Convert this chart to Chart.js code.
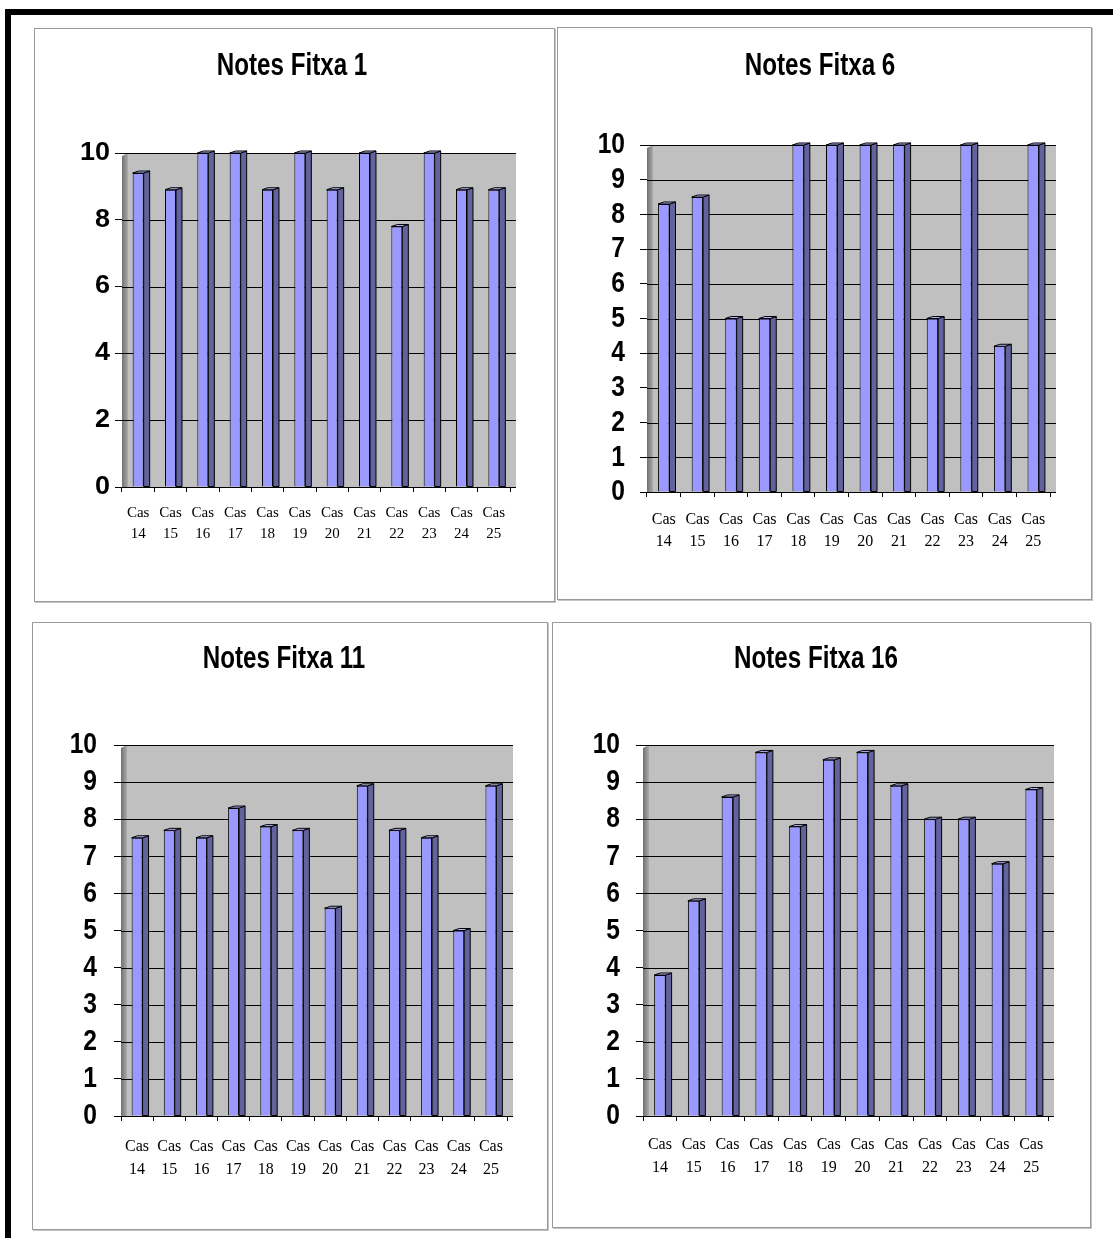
<!DOCTYPE html>
<html>
<head>
<meta charset="utf-8">
<script src="https://cdn.jsdelivr.net/npm/chart.js@4.4.1/dist/chart.umd.min.js"></script>
<style>
  html, body { margin: 0; padding: 0; background: #fff; width: 1113px; height: 1238px; overflow: hidden; position: relative; }
  #frame { position: absolute; left: 5px; top: 9px; width: 1200px; height: 1300px; border-top: 6px solid #000; border-left: 6px solid #000; }
  .panel { position: absolute; box-sizing: border-box; border: 1px solid #9a9a9a; box-shadow: 1px 1px 0 #c4c4c4; background: #fff; }
  canvas.chart { position: absolute; }
</style>
</head>
<body>
<div id="frame"></div>
<script>
// Case numbers on the horizontal axis
const casos = [14, 15, 16, 17, 18, 19, 20, 21, 22, 23, 24, 25];

// Marks per worksheet (fitxa), one value per case
const notesFitxa1  = [9.4, 8.9, 10, 10, 8.9, 10, 8.9, 10, 7.8, 10, 8.9, 8.9];
const notesFitxa6  = [8.3, 8.5, 5, 5, 10, 10, 10, 10, 5, 10, 4.2, 10];
const notesFitxa11 = [7.5, 7.7, 7.5, 8.3, 7.8, 7.7, 5.6, 8.9, 7.7, 7.5, 5.0, 8.9];
const notesFitxa16 = [3.8, 5.8, 8.6, 9.8, 7.8, 9.6, 9.8, 8.9, 8.0, 8.0, 6.8, 8.8];

const titols = ['Notes Fitxa 1', 'Notes Fitxa 6', 'Notes Fitxa 11', 'Notes Fitxa 16'];
const series = [notesFitxa1, notesFitxa6, notesFitxa11, notesFitxa16];
const passos = [2, 1, 1, 1];   // y tick step of each chart

// Two-line category labels: "Cas" over the number
const etiquetes = casos.map(c => ['Cas', String(c)]);

const SANS = "'Liberation Sans', Arial, sans-serif";
const SERIF = "'Liberation Serif', 'Times New Roman', serif";

// Frame and plot geometry of each panel
// padR: blank space right of the plot, of which padOut sits outside the title box
const panells = [
  { left: 34,  top: 28,  w: 521, h: 574, yW: 88, padR: 45, padOut: 5,  xH: 115, tTop: 20.5, tBot: 69.5, yPad: 5,  yFont: 25, xFont: 15, xLine: 21, xPad: 10.5 },
  { left: 557, top: 27,  w: 535, h: 573, yW: 90, padR: 42, padOut: 9,  xH: 108, tTop: 21.5, tBot: 61.5, yPad: 15, yFont: 30, xFont: 16, xLine: 22, xPad: 12 },
  { left: 32,  top: 622, w: 516, h: 608, yW: 89, padR: 41, padOut: 12, xH: 114, tTop: 20,   tBot: 68,   yPad: 17, yFont: 30, xFont: 16, xLine: 23, xPad: 14.5 },
  { left: 552, top: 622, w: 539, h: 606, yW: 91, padR: 43, padOut: 11, xH: 112, tTop: 20,   tBot: 68,   yPad: 16, yFont: 30, xFont: 16, xLine: 23, xPad: 12.5 }
];

// Sans-serif text is set in narrow (or slightly wide) cuts: scale it horizontally
// around its anchor, by a factor chosen from the font size
const narrowText = {
  id: 'narrowText',
  beforeInit(chart, args, opts) {
    const ctx = chart.ctx;
    const fill = ctx.fillText.bind(ctx);
    ctx.fillText = function (text, x, y, maxWidth) {
      const m = ctx.font.match(/(\d+(?:\.\d+)?)px/);
      const f = m && ctx.font.indexOf('Liberation Sans') !== -1 ? opts.factors[m[1]] : undefined;
      if (f !== undefined) {
        ctx.save();
        ctx.translate(x, y);
        ctx.scale(f, 1);
        fill(text, 0, 0);
        ctx.restore();
      } else if (maxWidth === undefined) {
        fill(text, x, y);
      } else {
        fill(text, x, y, maxWidth);
      }
    };
  }
};

// Grey back wall, shaded side wall and horizontal grid lines, then the 3D faces of the bars
const wall3d = {
  id: 'wall3d',
  beforeDatasetsDraw(chart, args, opts) {
    const { ctx, chartArea: a } = chart;
    const y = chart.scales.y;
    const d = opts.depth;
    ctx.save();
    ctx.fillStyle = '#c0c0c0';
    ctx.fillRect(a.left + d, a.top, a.right - a.left, a.bottom - a.top);
    const g = ctx.createLinearGradient(a.left, 0, a.left + d, 0);
    g.addColorStop(0, '#707070');
    g.addColorStop(1, '#ababab');
    ctx.fillStyle = g;
    ctx.beginPath();
    ctx.moveTo(a.left, a.top + 3);
    ctx.lineTo(a.left + d, a.top);
    ctx.lineTo(a.left + d, a.bottom);
    ctx.lineTo(a.left, a.bottom);
    ctx.closePath();
    ctx.fill();
    ctx.strokeStyle = '#000';
    ctx.lineWidth = 1;
    y.ticks.forEach(t => {
      const py = Math.round(y.getPixelForValue(t.value)) + 0.5;
      ctx.beginPath();
      ctx.moveTo(a.left, py);
      ctx.lineTo(a.right + d, py);
      ctx.stroke();
    });
    ctx.restore();
  },
  afterDatasetsDraw(chart, args, opts) {
    const { ctx } = chart;
    const s = opts.side, r0 = opts.rise;
    chart.getSortedVisibleDatasetMetas().forEach(meta => {
      meta.data.forEach(bar => {
        const { x, y, base, width } = bar.getProps(['x', 'y', 'base', 'width'], true);
        const l = x - width / 2, r = x + width / 2;
        ctx.save();
        ctx.lineWidth = 1;
        ctx.strokeStyle = '#000';
        ctx.fillStyle = '#62629c';
        ctx.beginPath();
        ctx.moveTo(r, y);
        ctx.lineTo(r + s, y - r0);
        ctx.lineTo(r + s, base);
        ctx.lineTo(r, base);
        ctx.closePath();
        ctx.fill();
        ctx.stroke();
        ctx.fillStyle = '#b4b4ff';
        ctx.beginPath();
        ctx.moveTo(l, y);
        ctx.lineTo(l + s, y - r0);
        ctx.lineTo(r + s, y - r0);
        ctx.lineTo(r, y);
        ctx.closePath();
        ctx.fill();
        ctx.stroke();
        ctx.restore();
      });
    });
  }
};

panells.forEach((p, i) => {
  const frame = document.createElement('div');
  frame.className = 'panel';
  Object.assign(frame.style, { left: p.left + 'px', top: p.top + 'px', width: p.w + 'px', height: p.h + 'px' });
  document.body.appendChild(frame);

  const cv = document.createElement('canvas');
  cv.className = 'chart';
  cv.width = p.w;
  cv.height = p.h;
  Object.assign(cv.style, { left: p.left + 'px', top: p.top + 'px', width: p.w + 'px', height: p.h + 'px' });
  document.body.appendChild(cv);

  new Chart(cv, {
    type: 'bar',
    data: {
      labels: etiquetes,
      datasets: [{
        data: series[i],
        yAxisID: 'y',
        backgroundColor: '#9999ff',
        borderColor: '#000',
        borderWidth: 1,
        barPercentage: 0.34,
        categoryPercentage: 1
      }]
    },
    options: {
      responsive: false,
      animation: false,
      devicePixelRatio: 1,
      layout: { padding: { left: 0, top: 0, right: p.padOut, bottom: 0 } },
      plugins: {
        legend: { display: false },
        tooltip: { enabled: false },
        title: {
          display: true,
          text: titols[i],
          color: '#000',
          font: { family: SANS, size: 31, weight: 'bold', lineHeight: '35px' },
          padding: { top: p.tTop, bottom: p.tBot }
        },
        narrowText: { factors: { '31': 0.78, '30': 0.82, '25': 1.08 } },
        wall3d: { depth: 6, side: 6, rise: 2 }
      },
      scales: {
        x: {
          offset: true,
          grid: { display: true, drawOnChartArea: false, drawTicks: true, tickLength: 5, color: '#000', offset: true },
          border: { display: true, color: '#000' },
          ticks: {
            color: '#000',
            font: { family: SERIF, size: p.xFont, lineHeight: p.xLine + 'px' },
            padding: p.xPad,
            maxRotation: 0, minRotation: 0, autoSkip: false
          },
          afterFit(scale) { scale.height = p.xH; }
        },
        y: {
          min: 0,
          max: 10,
          grid: { drawOnChartArea: false, drawTicks: true, tickLength: 7, color: '#000' },
          border: { display: false },
          ticks: {
            stepSize: passos[i],
            autoSkip: false,
            color: '#000',
            font: { family: SANS, size: p.yFont, weight: 'bold', lineHeight: 1 },
            padding: p.yPad
          },
          afterFit(scale) { scale.width = p.yW; }
        },
        // empty right-hand axis that only reserves the margin beside the plot
        margeDreta: {
          type: 'linear',
          position: 'right',
          min: 0,
          max: 10,
          grid: { display: false, drawTicks: false },
          border: { display: false },
          ticks: { display: false },
          afterFit(scale) { scale.width = p.padR - p.padOut; }
        }
      }
    },
    plugins: [narrowText, wall3d]
  });
});
</script>
</body>
</html>
